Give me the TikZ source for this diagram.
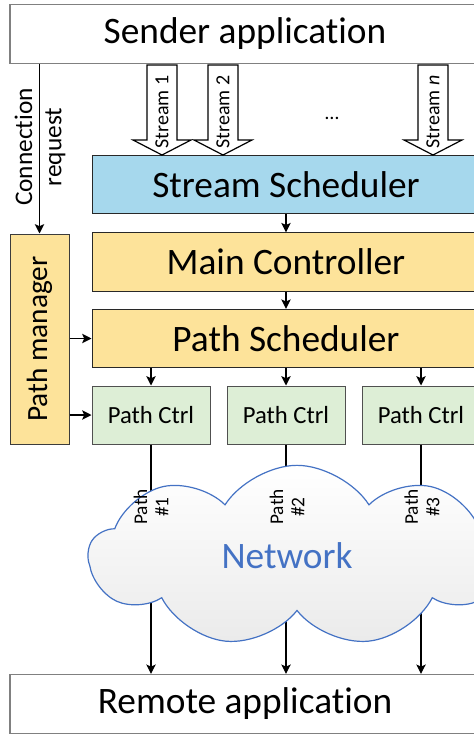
\documentclass[tikz,border=0pt]{standalone}
\usepackage{fontspec}
\setmainfont{Carlito}[Ligatures={NoCommon,NoContextual}]
\usepackage{tikz}
\usetikzlibrary{arrows.meta,shapes.symbols}
\definecolor{schedblue}{RGB}{166,216,237}
\definecolor{ctrlyellow}{RGB}{253,227,154}
\definecolor{ctrlgreen}{RGB}{221,238,214}
\definecolor{netblue}{RGB}{68,114,196}

\begin{document}
\begin{tikzpicture}[x=0.75pt,y=0.75pt,yscale=-1,xscale=1,
  appbox/.style={draw={rgb, 255:red, 128; green, 128; blue, 128},line width=0.9pt,minimum width=352.5pt,minimum height=44.25pt,inner sep=0pt,font=\fontsize{28}{30}\selectfont},
  blockbox/.style={draw={rgb, 255:red, 40; green, 40; blue, 40},line width=0.75pt,minimum width=291pt,minimum height=43.8pt,inner sep=0pt,font=\fontsize{28}{30}\selectfont},
  ctrlbox/.style={draw={rgb, 255:red, 80; green, 80; blue, 80},fill=ctrlgreen,line width=0.75pt,minimum width=88.5pt,minimum height=43.5pt,inner sep=0pt,font=\fontsize{18.5}{20}\selectfont},
  arr/.style={line width=0.9pt,-{Stealth[length=7pt,width=7pt,inset=1.5pt]}},
  streamtxt/.style={rotate=90,inner sep=0pt,font=\fontsize{15}{16}\selectfont},
  pathtxt/.style={rotate=90,align=center,inner sep=0pt,font=\fontsize{14.5}{16}\selectfont}]
%uncomment if require: \path (0,735); %set diagram left start at 0, and has height of 735
\useasboundingbox (0,0) rectangle (474,735);
\clip (0,0) rectangle (474,735);

% Application boxes
\node [appbox] (sender) at (245,34) {Sender application};
\node [appbox] (remote) at (245,704) {Remote application};

% Scheduler and controller blocks
\node [blockbox,fill=schedblue] (ss) at (286,184.5) {Stream Scheduler};
\node [blockbox,fill=ctrlyellow] (mc) at (286,262) {Main Controller};
\node [blockbox,fill=ctrlyellow] (ps) at (286,338.5) {Path Scheduler};

% Path manager
\node [draw={rgb, 255:red, 60; green, 60; blue, 60},fill=ctrlyellow,line width=0.75pt,minimum width=44.25pt,minimum height=157.5pt,inner sep=0pt] (pm) at (39.5,339) {};
\node [rotate=90,inner sep=0pt,font=\fontsize{22}{24}\selectfont] (pmtxt) at (pm.center) {Path manager};

% Path controllers
\node [ctrlbox] (pc1) at (151,415) {Path Ctrl};
\node [ctrlbox] (pc2) at (286,415) {Path Ctrl};
\node [ctrlbox] (pc3) at (421,415) {Path Ctrl};

%Down Arrow (streams)
\draw [line width=0.9pt,fill=white] (147,65) -- (177,65) -- (177,140) -- (191,140) -- (162,155) -- (133,140) -- (147,140) -- cycle ;
\draw [line width=0.9pt,fill=white] (208,65) -- (238,65) -- (238,140) -- (252,140) -- (223,155) -- (194,140) -- (208,140) -- cycle ;
\draw [line width=0.9pt,fill=white] (418,65) -- (448,65) -- (448,140) -- (462,140) -- (433,155) -- (404,140) -- (418,140) -- cycle ;

% Text Node
\node [streamtxt] (s1) at (162,112) {Stream 1};
\node [streamtxt] (s2) at (223,112) {Stream 2};
\node [streamtxt] (sn) at (433,112) {Stream \textit{n}};
\node [inner sep=0pt,font=\fontsize{15}{16}\selectfont] (dots) at (332,118) {\dots};

% Connection request
\draw [arr] (sender.south -| pm.north) -- (pm.north);
\node [rotate=90,align=center,inner sep=0pt,font=\fontsize{19}{22}\selectfont] (conn) at (40,147) {Connection\\request};

% Internal arrows
\draw [arr] (ss.south -| mc.north) -- (mc.north);
\draw [arr] (mc.south) -- (ps.north);
\draw [arr] (pc1.north |- ps.south) -- (pc1.north);
\draw [arr] (pc2.north |- ps.south) -- (pc2.north);
\draw [arr] (pc3.north |- ps.south) -- (pc3.north);
\draw [arr] (pm.east |- ps.west) -- (ps.west);
\draw [arr] (pm.east |- pc1.west) -- (pc1.west);

% Paths through the network
\draw [arr] (pc1.south) -- (pc1.south |- remote.north);
\draw [arr] (pc2.south) -- (pc2.south |- remote.north);
\draw [arr] (pc3.south) -- (pc3.south |- remote.north);

%Shape: Cloud
\node [cloud,cloud puffs=9,cloud puff arc=115,aspect=2.3,draw=netblue,line width=0.9pt,top color=white,bottom color=black!8,minimum width=312pt,minimum height=136pt,inner sep=0pt] (net) at (297,556) {};
\node [font=\fontsize{28}{30}\selectfont,color=netblue,inner sep=0pt] (nettxt) at (287,556) {Network};

% Text Node
\node [pathtxt] (p1) at (151,507) {Path\\\#1};
\node [pathtxt] (p2) at (287,507) {Path\\\#2};
\node [pathtxt] (p3) at (422,507) {Path\\\#3};

\end{tikzpicture}
\end{document}
